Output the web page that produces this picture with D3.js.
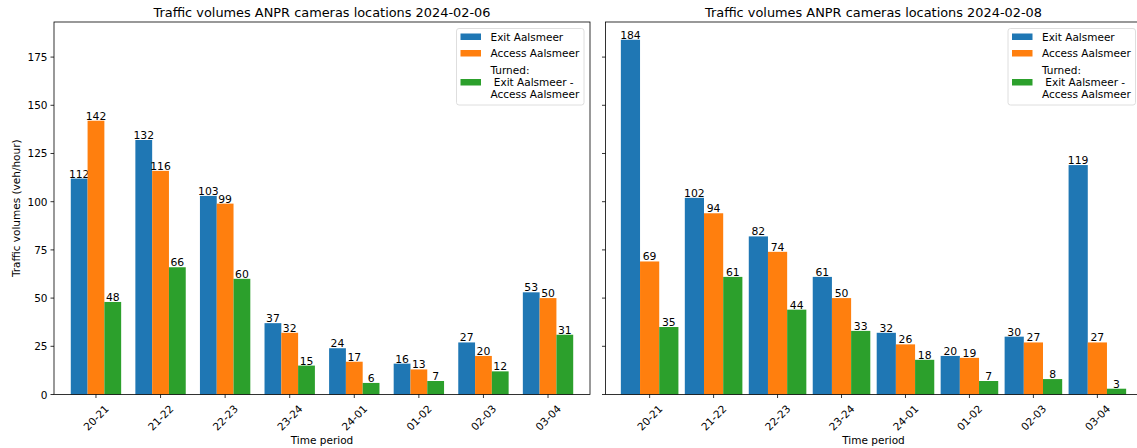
<!DOCTYPE html>
<html>
<head>
<script src='https://d3js.org/d3.v7.min.js'></script>
<style>
body {margin:0; background:#fff;}
svg text {font-family:'DejaVu Sans', sans-serif; fill:#000;}
</style>
</head>
<body>
<svg id='chart' width=1137 height=448></svg>

<script>
var periods = ['20-21','21-22','22-23','23-24','24-01','01-02','02-03','03-04']
var seriesNames = ['Exit Aalsmeer','Access Aalsmeer','Turned:\n Exit Aalsmeer -\nAccess Aalsmeer']
var colors = ['#1f77b4','#ff7f0e','#2ca02c']
var yTicks = [0,25,50,75,100,125,150,175]

// 2024-02-06
var exit06 = [112,132,103,37,24,16,27,53]
var access06 = [142,116,99,32,17,13,20,50]
var turned06 = [48,66,60,15,6,7,12,31]
// 2024-02-08
var exit08 = [184,102,82,61,32,20,30,119]
var access08 = [69,94,74,50,26,19,27,27]
var turned08 = [35,61,44,33,18,7,8,3]

var plotTop = 22, plotBottom = 394.5
var svg = d3.select('#chart')

var y = d3.scaleLinear().domain([0,193.2]).range([plotBottom,plotTop])

var panels = [
  {title:'Traffic volumes ANPR cameras locations 2024-02-06', left:54, right:590, dom:[-0.65,7.65], bw:0.26,
   series:[exit06,access06,turned06], ylabels:true},
  {title:'Traffic volumes ANPR cameras locations 2024-02-08', left:605.5, right:1141.5, dom:[-0.69,7.69], bw:0.30,
   series:[exit08,access08,turned08], ylabels:false}
]

panels.forEach(function(p){
  var x = d3.scaleLinear().domain(p.dom).range([p.left,p.right])
  var g = svg.append('g')

  // bars
  p.series.forEach(function(vals,s){
    var off = (s-1)*p.bw
    g.selectAll(null).data(vals).enter().append('rect')
      .attr('x',function(d,i){return x(i+off-p.bw/2)})
      .attr('y',function(d){return y(d)})
      .attr('width',x(p.bw)-x(0))
      .attr('height',function(d){return y(0)-y(d)})
      .attr('fill',colors[s])
    g.selectAll(null).data(vals).enter().append('text')
      .attr('x',function(d,i){return x(i+off)})
      .attr('y',function(d){return y(d)-1})
      .attr('text-anchor','middle')
      .style('font-size','10.8px')
      .text(function(d){return d})
  })

  // spines
  g.append('rect')
    .attr('x',p.left).attr('y',plotTop)
    .attr('width',p.right-p.left).attr('height',plotBottom-plotTop)
    .attr('fill','none').attr('stroke','#000').attr('stroke-width',0.8)

  // y ticks
  yTicks.forEach(function(t){
    g.append('line').attr('x1',p.left-3.5).attr('x2',p.left)
      .attr('y1',y(t)).attr('y2',y(t)).attr('stroke','#000').attr('stroke-width',0.8)
    if(p.ylabels){
      g.append('text').attr('x',p.left-6.5).attr('y',y(t))
        .attr('text-anchor','end').attr('dominant-baseline','central')
        .style('font-size','10.5px').text(t)
    }
  })

  // x ticks
  periods.forEach(function(lab,i){
    var tx = x(i)
    g.append('line').attr('x1',tx).attr('x2',tx)
      .attr('y1',plotBottom).attr('y2',plotBottom+3.5).attr('stroke','#000').attr('stroke-width',0.8)
    var t = g.append('text').attr('text-anchor','middle').attr('dominant-baseline','central')
      .style('font-size','10.5px').text(lab)
    var len = t.node().getComputedTextLength()
    var cy = plotBottom + 8 + (len + 12)*0.7071/2
    t.attr('transform','translate('+tx+','+cy+') rotate(-45)')
  })

  // title and x label
  var cx = (p.left+p.right)/2
  g.append('text').attr('x',cx).attr('y',17).attr('text-anchor','middle')
    .style('font-size','12.9px').text(p.title)
  g.append('text').attr('x',cx).attr('y',444).attr('text-anchor','middle')
    .style('font-size','10.5px').text('Time period')

  // legend
  var lg = g.append('g').attr('transform','translate('+(p.right-133.5)+','+(plotTop+6.5)+')')
  lg.append('rect').attr('width',127.5).attr('height',76.5).attr('rx',2.5)
    .attr('fill','#fff').attr('fill-opacity',0.8).attr('stroke','#d6d6d6').attr('stroke-width',0.8)
  var rowsY = [8, 24.5, 53.5]
  seriesNames.forEach(function(name,s){
    lg.append('rect').attr('x',4).attr('y',rowsY[s]-3).attr('width',20.5).attr('height',6.5)
      .attr('fill',colors[s])
    var lines = name.split('\n')
    var t = lg.append('text').attr('x',34).style('font-size','10.5px').style('white-space','pre')
    lines.forEach(function(l,k){
      t.append('tspan').attr('x',34)
        .attr('y',rowsY[s] + (k-(lines.length-1)/2)*12.3 + 4)
        .text(l)
    })
  })
})

// y axis label
svg.append('text')
  .attr('transform','translate(16,'+((plotTop+plotBottom)/2)+') rotate(-90)')
  .attr('text-anchor','middle').attr('dominant-baseline','central')
  .style('font-size','10.5px')
  .text('Traffic volumes (veh/hour)')
</script>
</body>
</html>
